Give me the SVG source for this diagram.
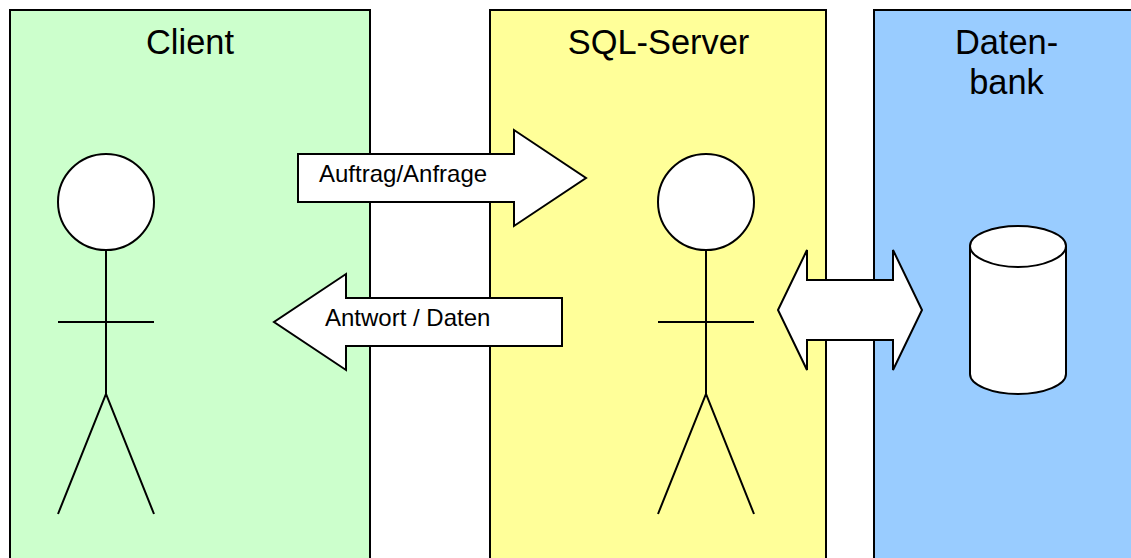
<svg xmlns="http://www.w3.org/2000/svg" width="1131" height="558" viewBox="0 0 1131 558">
<style>
.s{stroke:#000;stroke-width:2;stroke-linejoin:miter}
.w{fill:#fff}
.n{fill:none}
text{font-family:"Liberation Sans",Arial,sans-serif;fill:#000}
.h{font-size:34.4px;text-anchor:middle}
.l{font-size:24px}
</style>
<rect width="1131" height="558" fill="#fff"/>
<g id="client">
<rect class="s" x="10" y="10" width="360" height="560" fill="#ccffcc"/>
<text class="h" x="190" y="53.5">Client</text>
</g>
<g id="sql-server">
<rect class="s" x="490" y="10" width="336" height="560" fill="#ffff99"/>
<text class="h" x="658.500" y="53.5">SQL-Server</text>
</g>
<g id="datenbank">
<rect class="s" x="874" y="10" width="280" height="560" fill="#99ccff"/>
<text class="h" x="1006.500" y="53.5">Daten-</text>
<text class="h" x="1006.500" y="93.500">bank</text>
</g>
<g id="actor-client">
<circle class="s w" cx="106" cy="202" r="48"/>
<path class="s n" d="M106 250V394M58 322H154M58 514L106 394L154 514"/>
</g>
<g id="actor-server">
<circle class="s w" cx="706" cy="202" r="48"/>
<path class="s n" d="M706 250V394M658 322H754M658 514L706 394L754 514"/>
</g>
<g id="database">
<path class="s w" d="M970 246C970 235 992 226 1018 226C1044 226 1066 235 1066 246V374C1066 385 1044 394 1018 394C992 394 970 385 970 374Z"/>
<path class="s n" d="M970 246C970 257 992 267 1018 267C1044 267 1066 257 1066 246"/>
</g>
<g id="connectors">
<g id="arrow-auftrag">
<path class="s w" d="M298 154H514V130L586 178L514 226V202H298Z"/>
<text class="l" x="319" y="182">Auftrag/Anfrage</text>
</g>
<g id="arrow-antwort">
<path class="s w" d="M562 298H346V274L274 322L346 370V346H562Z"/>
<text class="l" x="325" y="326">Antwort / Daten</text>
</g>
<path id="arrow-db" class="s w" d="M778 310L807 250V280H893V250L922 310L893 370V340H807V370Z"/>
</g>
</svg>
